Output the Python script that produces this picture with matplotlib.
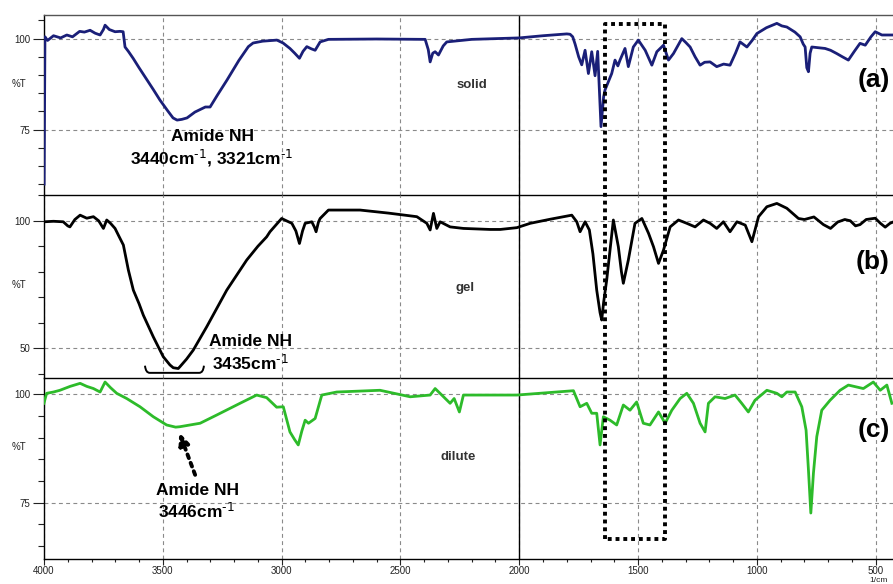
import numpy as np
import matplotlib
matplotlib.use("Agg")
import matplotlib.pyplot as plt
from matplotlib.lines import Line2D
from matplotlib.path import Path
from matplotlib.patches import PathPatch
from matplotlib.ticker import MultipleLocator, FixedLocator
import matplotlib.transforms as mtransforms

plt.rcParams["font.family"] = ["Liberation Sans", "DejaVu Sans"]
plt.rcParams["mathtext.default"] = "regular"

# ---- spectra: wavenumber (cm^-1) and transmittance (%T) ----
wn_solid = [3999.5, 3998, 3996, 3985, 3960, 3930, 3904, 3880, 3850, 3830, 3806, 3785, 3764, 3750,
            3743, 3725, 3701, 3680, 3667, 3659, 3645, 3625, 3600, 3566, 3540, 3512, 3480, 3457,
            3440, 3420, 3398, 3365, 3321, 3301, 3270, 3230, 3180, 3140, 3120, 3080, 3020, 2994,
            2965, 2945, 2925, 2910, 2894, 2875, 2859, 2838, 2803, 2600, 2396, 2383, 2375, 2364,
            2354, 2340, 2320, 2305, 2200, 2000, 1900, 1800, 1786, 1775, 1765, 1750, 1737, 1723,
            1709, 1695, 1681, 1670, 1656, 1645, 1639, 1620, 1611, 1597, 1585, 1576, 1555, 1541,
            1520, 1499, 1470, 1442, 1421, 1393, 1372, 1351, 1316, 1300, 1281, 1260, 1239, 1220,
            1197, 1169, 1140, 1113, 1090, 1071, 1042, 1020, 1000, 960, 916, 895, 874, 840, 818,
            805, 797, 790, 783, 776, 769, 740, 713, 690, 664, 640, 615, 590, 566, 544, 520, 502,
            474, 446, 427]
t_solid = [60, 78, 100.5, 99.5, 100.8, 100.2, 101, 100.5, 102, 101.8, 102.3, 101.5, 101, 102.5,
           103.7, 102.5, 101.9, 102, 101.9, 97.7, 96.5, 94.6, 92, 88.6, 86, 83.1, 80.2, 78.2,
           77.6, 77.8, 78.2, 79.8, 81.2, 81.2, 84.5, 88.6, 94, 97.8, 98.8, 99.3, 99.6, 98.8,
           97.3, 96, 94.6, 96.5, 97.8, 97.2, 96.8, 99.1, 99.8, 99.9, 99.8, 97, 93.6, 96,
           96.4, 95.5, 98, 99.1, 99.8, 100.2, 100.8, 101.3, 101.2, 100.5, 98.5, 95, 92.8, 96.8,
           90.4, 96.4, 89.8, 96.5, 75.8, 84, 85.9, 89, 90.4, 94.1, 92.5, 94.1, 97.3, 92.3,
           97.7, 99.6, 96.8, 92.7, 96.4, 98.2, 94.1, 95.9, 100, 99, 97.7, 95, 92.7, 93.5,
           93.6, 92.3, 93, 92.7, 96, 99.1, 97.7, 99.5, 101.4, 103, 104.2, 103.5, 103.2, 101.8, 100.5,
           98.5, 97.7, 92, 90.9, 96, 97.7, 97.5, 97.3, 96.8, 95.9, 95, 94.1, 96.5, 98.7, 98.2, 100.5, 101.9,
           101, 101, 101]

wn_gel = [4000, 3960, 3919, 3900, 3891, 3870, 3848, 3820, 3792, 3770, 3750, 3736, 3720, 3701,
          3685, 3666, 3645, 3624, 3600, 3582, 3540, 3498, 3470, 3456, 3435, 3428, 3400, 3372,
          3315, 3231, 3147, 3100, 3063, 3049, 3000, 2980, 2957, 2940, 2925, 2912, 2901, 2873,
          2862, 2855, 2845, 2838, 2803, 2670, 2550, 2431, 2389, 2375, 2361, 2347, 2333, 2291,
          2235, 2123, 2080, 2010, 1954, 1870, 1779, 1758, 1744, 1723, 1705, 1690, 1674, 1660,
          1653, 1645, 1632, 1604, 1583, 1570, 1562, 1541, 1513, 1484, 1456, 1435, 1414, 1393,
          1365, 1330, 1295, 1260, 1225, 1197, 1169, 1141, 1113, 1084, 1049, 1021, 993, 958,
          916, 874, 825, 800, 760, 720, 690, 660, 630, 607, 585, 566, 540, 502, 480, 460, 440, 427]
t_gel = [99.6, 99.8, 99.6, 98, 97.6, 100.5, 102.2, 101, 101.6, 100, 97, 100.3, 99, 97,
         94, 90.5, 80.7, 72.8, 67.5, 63, 54.5, 46.7, 43.5, 42.4, 42.1, 42.8, 45.8, 49.3,
         58.5, 72.8, 84.6, 90, 93.7, 95.7, 100.9, 100, 99, 96, 91.1, 96, 99, 99.6,
         97.5, 95.7, 99.5, 100.9, 104.2, 104.2, 103, 101.6, 99, 96.4, 102.9, 97, 99.6, 97.6,
         97, 96.6, 96.6, 97.3, 99, 100.6, 102.2, 99.6, 95.7, 99.6, 96.4, 87, 72.8, 64,
         61.1, 68, 76.8, 100.3, 89.8, 80, 75.5, 84.6, 99, 100.9, 95.1, 89.8, 83.3, 88.5,
         97.6, 100.3, 99, 97.6, 100.3, 99, 97, 99.6, 95.7, 99.6, 98.3, 91.8, 101.6, 105.5,
         106.8, 104.9, 100.9, 100.5, 101.5, 98.5, 97, 99.5, 100.5, 100, 98, 98.5, 100.5, 101, 99, 97.5, 99, 99.5]

wn_dilute = [4000, 3995, 3989, 3960, 3933, 3890, 3848, 3820, 3792, 3764, 3743, 3720, 3694, 3652,
             3596, 3540, 3484, 3446, 3428, 3343, 3273, 3175, 3105, 3063, 3021, 2993, 2965, 2945,
             2930, 2915, 2901, 2887, 2859, 2831, 2768, 2586, 2459, 2375, 2354, 2326, 2291, 2274,
             2252, 2235, 2010, 1772, 1744, 1716, 1695, 1674, 1660, 1646, 1618, 1590, 1562, 1534,
             1506, 1478, 1450, 1414, 1386, 1358, 1323, 1295, 1267, 1239, 1218, 1204, 1176, 1134,
             1092, 1064, 1036, 1008, 958, 916, 895, 874, 839, 811, 793, 783, 773, 762, 748, 727,
             692, 650, 615, 552, 510, 481, 453, 432]
t_dilute = [97.9, 99, 100.2, 100.5, 100.9, 101.8, 102.5, 101.8, 101.3, 100.5, 102.8, 101.5, 100.2, 99,
            97.1, 94.8, 92.9, 92.4, 92.5, 93.3, 95.2, 97.9, 99.8, 99.2, 97, 97.1, 91.3, 89.5,
            88.3, 91.5, 94, 93.3, 94.4, 99.8, 100.5, 100.9, 99.4, 99.8, 101.3, 99.8, 97.9, 99,
            95.9, 99.8, 99.8, 100.8, 97.1, 97.9, 95.6, 95.6, 88.3, 94.8, 94, 92.9, 97.5, 96.3,
            98.2, 93.3, 92.9, 95.9, 93.3, 96.3, 99, 100.2, 97.9, 93.3, 91.3, 97.9, 99.4, 99,
            99.8, 97.9, 95.9, 98.6, 100.9, 100.2, 99.4, 100.5, 100.5, 97.1, 91.7, 82.5, 72.6, 81.8, 90.2, 96.3,
            98.6, 100.9, 102.1, 101.3, 102.8, 100.9, 102.1, 97.9]

x_ticks = [4000, 3500, 3000, 2500, 2000, 1500, 1000, 500]
amide_a = (3440, 3321)
amide_b = 3435
amide_c = 3446

W, H = 893, 584
fig = plt.figure(figsize=(W / 100, H / 100), dpi=100)

def frac_y(py):
    return 1 - py / H

left = 44 / W
panels = [
    # (top px, bottom px, ylim, labelled y ticks, minor step, colour, data)
    (15, 195, (57.0, 106.5), [75, 100], 5, "#1a1f78", wn_solid, t_solid),
    (195, 377.7, (38.5, 110.1), [50, 100], 10, "#000000", wn_gel, t_gel),
    (377.7, 559, (62.0, 103.8), [75, 100], 5, "#2dbb2a", wn_dilute, t_dilute),
]

axes = []
for i, (top, bot, ylim, yt, ystep, col, xs, ys) in enumerate(panels):
    ax = fig.add_axes([left, frac_y(bot), 1 - left, (bot - top) / H])
    ax.patch.set_visible(False)
    ax.set_xlim(4000, 427.2)
    ax.set_ylim(*ylim)
    ax.plot(xs, ys, color=col, lw=2.0, solid_joinstyle="round", zorder=3)
    ax.yaxis.set_major_locator(FixedLocator(yt))
    ax.yaxis.set_minor_locator(MultipleLocator(ystep))
    ax.xaxis.set_major_locator(FixedLocator(x_ticks))
    ax.xaxis.set_minor_locator(MultipleLocator(100))
    ax.grid(True, which="major", color="#8a8a8a", lw=0.8, linestyle=(0, (3.5, 3)))
    ax.axvline(2000, color="black", lw=1.0, zorder=2)
    ax.tick_params(axis="y", which="major", direction="out", length=8, width=0.8,
                   labelsize=7, pad=2, colors="#222222")
    ax.tick_params(axis="y", which="minor", direction="out", length=4, width=0.8,
                   colors="#222222")
    for s in ("left", "bottom", "top"):
        ax.spines[s].set_color("black")
        ax.spines[s].set_linewidth(1.0)
    ax.spines["right"].set_visible(False)
    if i == 0:
        ax.spines["top"].set_color("#555555")
    else:
        ax.spines["top"].set_visible(False)
    if i < 2:
        ax.tick_params(axis="x", which="both", length=0, labelbottom=False)
    else:
        ax.tick_params(axis="x", which="major", direction="out", length=4, width=0.8,
                       labelsize=7, pad=1, colors="#222222")
        ax.tick_params(axis="x", which="minor", direction="out", length=2.2, width=0.8,
                       colors="#222222")
    axes.append(ax)

ax_a, ax_b, ax_c = axes

# %T axis titles
for py in (84, 285, 447):
    fig.text(19 / W, frac_y(py), "%T", fontsize=7, ha="center", va="center", color="#222222")

fig.text(879 / W, frac_y(583.8), "1/cm", fontsize=6, ha="center", va="bottom", color="#222222")

# sample names
name_kw = dict(fontsize=9.5, fontweight="bold", color="#333333", ha="center", va="center")
ax_a.text(2199, 87.2, "solid", **name_kw)
ax_b.text(2228, 73.6, "gel", **name_kw)
ax_c.text(2257, 85.5, "dilute", **name_kw)

# panel letters
let_kw = dict(fontsize=19, fontweight="bold", color="black", ha="center", va="center")
ax_a.text(506, 88.6, "(a)", **let_kw)
ax_b.text(515, 83.8, "(b)", **let_kw)
ax_c.text(506, 91.7, "(c)", **let_kw)

# amide band annotations
sup = r"cm$^{\text{-1}}$"
ann_kw = dict(fontsize=12.5, fontweight="bold", color="black", ha="center", va="center")
ax_a.text(3293, 73.2, "Amide NH", **ann_kw)
ax_a.text(3293, 67.2, f"{amide_a[0]}{sup}, {amide_a[1]}{sup}", **ann_kw)
ax_b.text(3129, 52.6, "Amide NH", **ann_kw)
ax_b.text(3133, 44.1, f"{amide_b}{sup}", **ann_kw)
ax_c.text(3356, 77.9, "Amide NH", **ann_kw)
ax_c.text(3360, 72.9, f"{amide_c}{sup}", **ann_kw)

# bracket under the gel NH minimum
verts = [(3575, 43.2), (3572, 40.4), (3555, 40.4), (3347, 40.4), (3330, 40.4), (3327, 43.2)]
codes = [Path.MOVETO, Path.CURVE3, Path.CURVE3, Path.LINETO, Path.CURVE3, Path.CURVE3]
ax_b.add_patch(PathPatch(Path(verts, codes), fill=False, lw=1.4, color="black",
                         clip_on=False, zorder=4))

# dotted arrow to the dilute NH band
ax_c.annotate("", xy=(amide_c - 15, 91.2), xytext=(3364, 81.4),
              arrowprops=dict(arrowstyle="-|>,head_length=0.7,head_width=0.3",
                              linestyle=(0, (1, 1.3)), lw=2.8, color="black",
                              shrinkA=0, shrinkB=0))

# dotted box around the amide I / II region, spanning all panels
trans = mtransforms.blended_transform_factory(ax_c.transData, fig.transFigure)
bx0, bx1 = 1639, 1386
by0, by1 = frac_y(539), frac_y(24)
box = Line2D([bx0, bx0, bx1, bx1, bx0], [by0, by1, by1, by0, by0], transform=trans,
             color="black", lw=2.8, linestyle=(0, (1, 1)), zorder=10)
fig.add_artist(box)

fig.savefig("out.png", dpi=100)
